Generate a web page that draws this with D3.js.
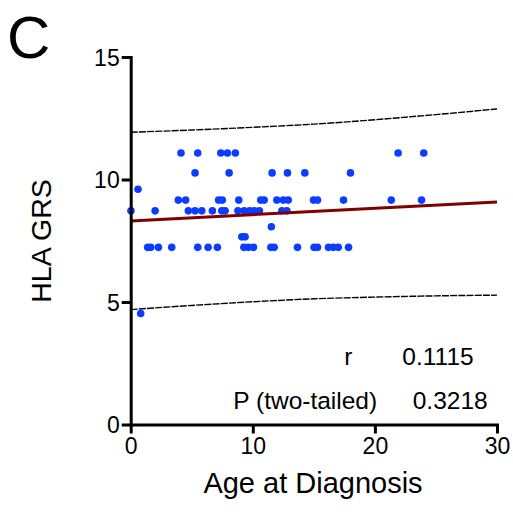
<!DOCTYPE html>
<html>
<head>
<meta charset="utf-8">
<script src="https://cdn.jsdelivr.net/npm/d3@7"></script>
<style>
  body { margin: 0; background: #fff; }
  text { font-family: "Liberation Sans", Arial, sans-serif; }
</style>
</head>
<body>
<div id="chart"></div>
<script>
// points, grouped by HLA GRS level
const grsLevels = [11.08, 10.27, 9.6, 9.16, 8.72, 8.07, 7.66, 7.23, 4.53];
const agesByLevel = [
  [4.12, 5.49, 7.38, 7.92, 8.57, 21.9, 24.0],
  [5.27, 8.06, 11.58, 12.84, 14.26, 18.0],
  [0.6],
  [3.9, 4.5, 7.2, 7.5, 8.85, 10.65, 10.93, 11.97, 12.5, 12.9, 14.97, 15.3, 17.43, 21.34, 23.82],
  [0.02, 2.0, 4.72, 5.27, 5.82, 6.69, 7.46, 7.73, 8.78, 9.3, 9.75, 10.13, 10.54, 12.38, 12.79],
  [11.52],
  [9.1, 9.37],
  [1.39, 1.64, 2.27, 3.36, 5.49, 6.34, 7.1, 9.27, 9.64, 10.05, 11.48, 11.75, 13.66, 15.02, 15.3, 16.2, 16.6, 17.0, 17.84],
  [0.82]
];

// fitted line and prediction band
const fitX = [0, 30];
const fitY = [8.31, 9.08];
const bandX = [0, 5, 10, 15, 20, 25, 30];
const bandUpper = [11.93, 12.02, 12.13, 12.26, 12.44, 12.65, 12.88];
const bandLower = [4.69, 4.86, 5.01, 5.13, 5.20, 5.25, 5.28];

const xTicks = [0, 10, 20, 30];
const yTicks = [0, 5, 10, 15];
const stats = [["r", "0.1115"], ["P (two-tailed)", "0.3218"]];

const W = 513, H = 512;
const margin = {top: 57, right: 16, bottom: 87.5, left: 130.7};
const width = W - margin.left - margin.right,
      height = H - margin.top - margin.bottom;

const root = d3.select("#chart").append("svg")
    .attr("width", W)
    .attr("height", H);

const svg = root.append("g")
    .attr("transform", `translate(${margin.left},${margin.top})`);

const x = d3.scaleLinear().domain([0, 30]).range([0, width]);
const y = d3.scaleLinear().domain([0, 15]).range([height, 0]);

let points = [];
grsLevels.forEach((g, i) => {
  for (const a of agesByLevel[i]) points.push([a, g]);
});

// prediction bands
const bandLine = d3.line()
    .x(d => x(d[0]))
    .y(d => y(d[1]))
    .curve(d3.curveMonotoneX);

[bandUpper, bandLower].forEach(b => {
  svg.append("path")
    .datum(bandX.map((v, i) => [v, b[i]]))
    .attr("d", bandLine)
    .attr("fill", "none")
    .attr("stroke", "#000")
    .attr("stroke-width", 1.4)
    .attr("stroke-dasharray", "7,1.2");
});

// points
svg.selectAll("circle.pt")
  .data(points)
  .join("circle")
    .attr("class", "pt")
    .attr("cx", d => x(d[0]))
    .attr("cy", d => y(d[1]))
    .attr("r", 3.8)
    .attr("fill", "#0a3dff");

// regression line
svg.append("path")
  .datum(fitX.map((v, i) => [v, fitY[i]]))
  .attr("d", d3.line().x(d => x(d[0])).y(d => y(d[1])))
  .attr("stroke", "#800000")
  .attr("stroke-width", 3)
  .attr("fill", "none");

// axes
const xAxis = svg.append("g")
    .attr("transform", `translate(0,${height})`)
    .call(d3.axisBottom(x).tickValues(xTicks).tickSize(9).tickPadding(4).tickSizeOuter(0));
const yAxis = svg.append("g")
    .call(d3.axisLeft(y).tickValues(yTicks).tickSize(9).tickPadding(2).tickSizeOuter(0));

[xAxis, yAxis].forEach(ax => {
  ax.attr("font-size", 23).attr("font-family", null);
  ax.select(".domain").attr("stroke-width", 3).attr("stroke-linecap", "square");
  ax.selectAll(".tick line").attr("stroke-width", 3);
  ax.selectAll(".tick text").attr("fill", "#000");
});
yAxis.selectAll(".tick text").attr("dy", "0.36em");

// stats (label, then value, both left aligned)
const statY = [y(2.43), y(0.63)];
const statLabelX = [x(17.5), x(8.4)];
const statValueX = [x(22.25), x(23.1)];
stats.forEach((s, i) => {
  svg.append("text")
    .attr("x", statLabelX[i]).attr("y", statY[i])
    .attr("font-size", 24.5)
    .text(s[0]);
  svg.append("text")
    .attr("x", statValueX[i]).attr("y", statY[i])
    .attr("font-size", 24.5)
    .text(s[1]);
});

// axis titles
root.append("text")
  .attr("x", 313)
  .attr("y", 493)
  .attr("text-anchor", "middle")
  .attr("font-size", 29)
  .text("Age at Diagnosis");

root.append("text")
  .attr("transform", `translate(51,241) rotate(-90)`)
  .attr("text-anchor", "middle")
  .attr("font-size", 28.5)
  .text("HLA GRS");

// panel letter
root.append("text")
  .attr("x", 7)
  .attr("y", 58)
  .attr("font-size", 60)
  .text("C");
</script>
</body>
</html>
